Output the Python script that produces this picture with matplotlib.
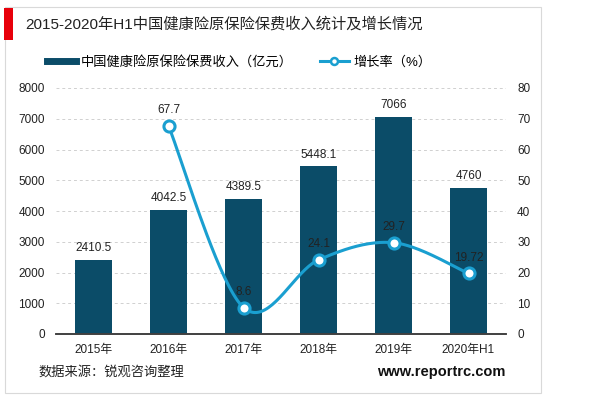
import matplotlib
matplotlib.use("Agg")
import matplotlib.pyplot as plt
import matplotlib.patches as mpatches
from matplotlib.lines import Line2D
import numpy as np

plt.rcParams['font.family'] = ['Liberation Sans', 'Noto Sans CJK SC', 'DejaVu Sans']

years = ["2015年", "2016年", "2017年", "2018年", "2019年", "2020年H1"]
income = [2410.5, 4042.5, 4389.5, 5448.1, 7066, 4760]
income_labels = ["2410.5", "4042.5", "4389.5", "5448.1", "7066", "4760"]
growth_years = [1, 2, 3, 4, 5]
growth = [67.7, 8.6, 24.1, 29.7, 19.72]
growth_labels = ["67.7", "8.6", "24.1", "29.7", "19.72"]

bar_color = "#0b4c68"
line_color = "#1a9fd0"


def smooth(xs, ys, n=40):
    # excel-like smoothed line through the points (catmull-rom bezier)
    xs = np.asarray(xs, float)
    ys = np.asarray(ys, float)
    px, py = [], []
    for i in range(len(xs) - 1):
        x0, y0 = (xs[i - 1], ys[i - 1]) if i > 0 else (xs[i], ys[i])
        x3, y3 = (xs[i + 2], ys[i + 2]) if i + 2 < len(xs) else (xs[i + 1], ys[i + 1])
        x1, y1, x2, y2 = xs[i], ys[i], xs[i + 1], ys[i + 1]
        c1 = (x1 + (x2 - x0) / 6, y1 + (y2 - y0) / 6)
        c2 = (x2 - (x3 - x1) / 6, y2 - (y3 - y1) / 6)
        t = np.linspace(0, 1, n)
        bx = (1 - t) ** 3 * x1 + 3 * (1 - t) ** 2 * t * c1[0] + 3 * (1 - t) * t ** 2 * c2[0] + t ** 3 * x2
        by = (1 - t) ** 3 * y1 + 3 * (1 - t) ** 2 * t * c1[1] + 3 * (1 - t) * t ** 2 * c2[1] + t ** 3 * y2
        px.extend(bx)
        py.extend(by)
    return px, py


fig = plt.figure(figsize=(6, 3.98), dpi=100)

# outer frame and red marker
fig.patches.append(mpatches.Rectangle((5 / 600, 1 - 393 / 398), 536 / 600, 386 / 398,
                                      transform=fig.transFigure, fill=False,
                                      edgecolor="#d9d9d9", linewidth=0.8))
fig.patches.append(mpatches.Rectangle((4 / 600, 1 - 40 / 398), 9 / 600, 32 / 398,
                                      transform=fig.transFigure, facecolor="#e8000b",
                                      edgecolor="none"))
fig.text(25 / 600, 1 - 24 / 398, "2015-2020年H1中国健康险原保险保费收入统计及增长情况",
         fontsize=11, va="center", ha="left", color="#222222")

ax = fig.add_axes([56 / 600, 1 - 334 / 398, 450 / 600, 246 / 398])
ax2 = ax.twinx()

x = np.arange(len(years))
ax.bar(x, income, width=0.5, color=bar_color, zorder=2)
for xi, v, s in zip(x, income, income_labels):
    ax.text(xi, v + 180, s, ha="center", va="bottom", fontsize=8.5, color="#222222")

ax.set_xlim(-0.5, 5.5)
ax.set_ylim(0, 8000)
ax.set_yticks(range(0, 8001, 1000))
ax.set_xticks(x)
ax.set_xticklabels(years)
ax.grid(axis="y", linestyle=(0, (3, 3)), color="#d0d0d0", linewidth=0.7, zorder=0)
ax.set_axisbelow(True)

lx, ly = smooth(growth_years, growth)
ax2.plot(lx, ly, color=line_color, linewidth=2.2, zorder=3)
ax2.plot(growth_years, growth, linestyle="none", marker="o", markersize=8,
         markerfacecolor="white", markeredgecolor=line_color, markeredgewidth=2.2, zorder=4)
for xi, v, s in zip(growth_years, growth, growth_labels):
    ax2.text(xi, v + 3.2, s, ha="center", va="bottom", fontsize=8.5, color="#222222", zorder=5)
ax2.set_ylim(0, 80)
ax2.set_yticks(range(0, 81, 10))

for a in (ax, ax2):
    for side in ("top", "right", "left"):
        a.spines[side].set_visible(False)
    a.spines["bottom"].set_color("#404040")
    a.spines["bottom"].set_linewidth(1.2)
    a.tick_params(axis="both", length=0, labelsize=8.5, colors="#222222")
ax.tick_params(axis="x", pad=7)
ax.tick_params(axis="y", pad=8)
ax2.tick_params(axis="y", pad=8)

handles = [
    Line2D([], [], color=bar_color, linewidth=5),
    Line2D([], [], color=line_color, linewidth=2.2, marker="o", markersize=5,
           markerfacecolor="white", markeredgecolor=line_color, markeredgewidth=1.8),
]
fig.legend(handles, ["中国健康险原保险保费收入（亿元）", "增长率（%）"],
           loc="center left", bbox_to_anchor=(35 / 600, 1 - 62 / 398), ncol=2,
           frameon=False, fontsize=9.5, handlelength=2.2, columnspacing=2.0,
           handletextpad=0.4)

fig.text(38 / 600, 1 - 372 / 398, "数据来源：锐观咨询整理", fontsize=9.5,
         va="center", ha="left", color="#222222")
fig.text(505 / 600, 1 - 372 / 398, "www.reportrc.com", fontsize=10.5, fontweight="bold",
         va="center", ha="right", color="#111111")

fig.savefig("out.png", dpi=100)
